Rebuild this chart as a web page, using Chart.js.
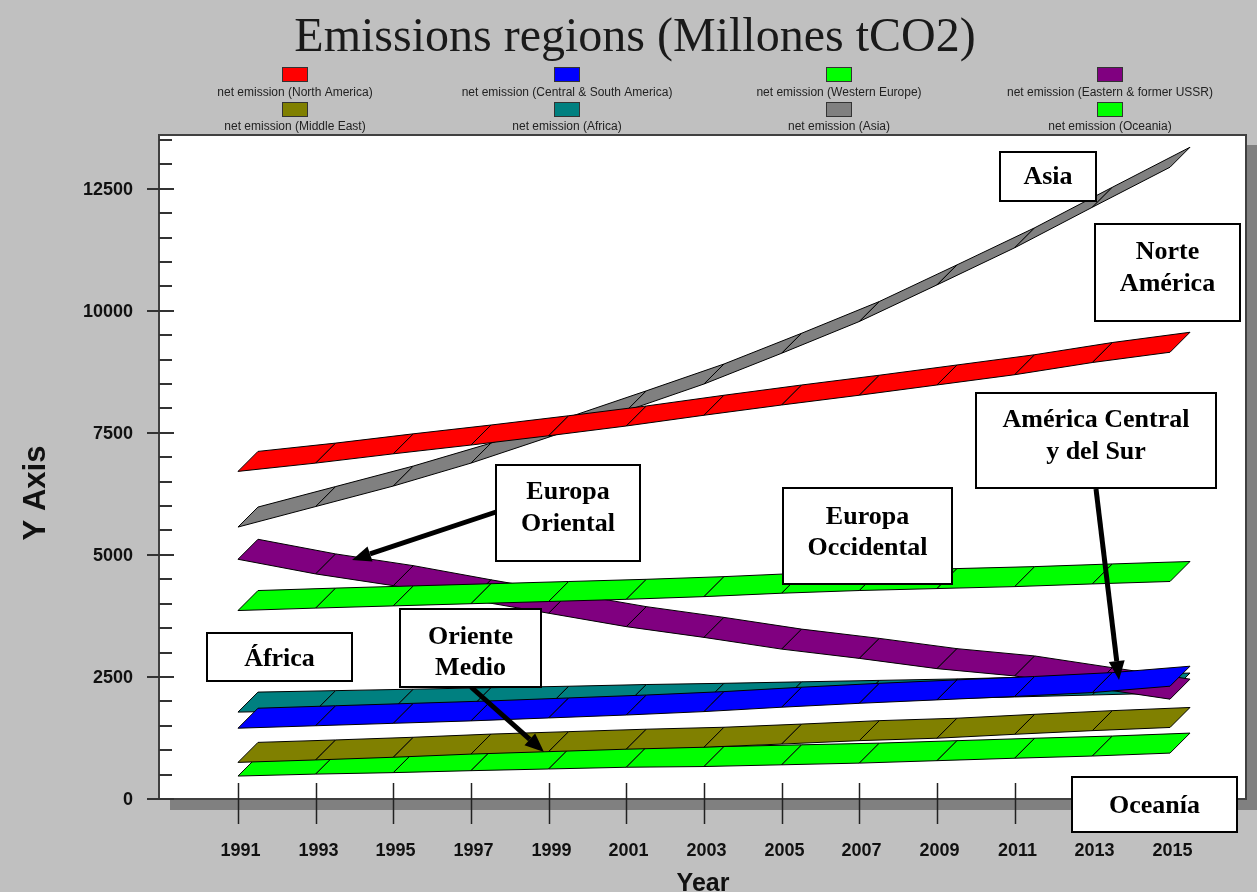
<!DOCTYPE html>
<html>
<head>
<meta charset="utf-8">
<script src="https://cdn.jsdelivr.net/npm/chart.js@4.4.0/dist/chart.umd.min.js"></script>
<style>
  html, body { margin: 0; padding: 0; background: #c0c0c0; }
  #wrap { width: 1257px; height: 892px; }
</style>
</head>
<body>
<div id="wrap"><canvas id="chartEmisiones" width="1257" height="892"></canvas></div>
<script>
// Años (cada dos años) y emisiones netas por región, millones tCO2
const years = [1991, 1993, 1995, 1997, 1999, 2001, 2003, 2005, 2007, 2009, 2011, 2013, 2015];

const northAmerica   = [6710, 6880, 7070, 7250, 7440, 7640, 7860, 8070, 8270, 8480, 8690, 8940, 9150];
const centralSouthAm = [1450, 1500, 1550, 1600, 1660, 1720, 1790, 1880, 1960, 2030, 2100, 2180, 2310];
const westernEurope  = [3860, 3910, 3955, 4000, 4045, 4090, 4145, 4215, 4270, 4310, 4350, 4405, 4455];
const easternUSSR    = [4910, 4610, 4370, 4080, 3805, 3530, 3310, 3070, 2880, 2670, 2520, 2280, 2045];
const middleEast     = [750, 800, 855, 920, 970, 1020, 1060, 1125, 1195, 1245, 1325, 1400, 1465];
const africa         = [1780, 1810, 1840, 1870, 1900, 1935, 1960, 1990, 2020, 2050, 2090, 2130, 2170];
const asia           = [5570, 5990, 6410, 6880, 7410, 7950, 8500, 9130, 9780, 10530, 11290, 12120, 12940];
const oceania        = [470, 510, 540, 580, 615, 650, 665, 700, 735, 785, 835, 880, 940];

const seriesLabels = [
  'net emission (North America)', 'net emission (Central & South America)',
  'net emission (Western Europe)', 'net emission (Eastern & former USSR)',
  'net emission (Middle East)', 'net emission (Africa)',
  'net emission (Asia)', 'net emission (Oceania)'
];
const seriesValues = [northAmerica, centralSouthAm, westernEurope, easternUSSR, middleEast, africa, asia, oceania];
const seriesColors = ['#ff0000', '#0000ff', '#00ff00', '#800080', '#808000', '#008080', '#808080', '#00ff00'];

const yMajorTicks = [0, 2500, 5000, 7500, 10000, 12500];
const yMinorStep = 500;
const xTickYears = years;

// Cuadros de texto con flecha (en píxeles)
const notas = [
  { box: [1000, 152, 1096, 201], lines: ['Asia'], ys: [177] },
  { box: [1095, 224, 1240, 321], lines: ['Norte', 'América'], ys: [252, 284] },
  { box: [976, 393, 1216, 488], lines: ['América Central', 'y del Sur'], ys: [420, 452], arrow: [1096, 489, 1119, 680] },
  { box: [496, 465, 640, 561], lines: ['Europa', 'Oriental'], ys: [492, 524], arrow: [496, 512, 352, 560] },
  { box: [783, 488, 952, 584], lines: ['Europa', 'Occidental'], ys: [517, 548] },
  { box: [207, 633, 352, 681], lines: ['África'], ys: [659] },
  { box: [400, 609, 541, 687], lines: ['Oriente', 'Medio'], ys: [637, 668], arrow: [471, 687, 544, 752] },
  { box: [1072, 777, 1237, 832], lines: ['Oceanía'], ys: [806] }
];

const DEPTH_X = 20, DEPTH_Y = -20;
const SANS = '"Liberation Sans", Arial, sans-serif';
const SERIF = '"Liberation Serif", "Times New Roman", serif';

// Fondo gris, sombra y área blanca del gráfico
const marcoPlugin = {
  id: 'marco',
  beforeDraw(chart) {
    const { ctx, chartArea: a } = chart;
    ctx.save();
    ctx.fillStyle = '#c0c0c0';
    ctx.fillRect(0, 0, chart.width, chart.height);
    ctx.fillStyle = '#808080';
    ctx.fillRect(a.left + 11, a.bottom, a.right - a.left, 11);
    ctx.fillRect(a.right, a.top + 10, 11, a.bottom - a.top);
    ctx.fillStyle = '#ffffff';
    ctx.fillRect(a.left, a.top, a.right - a.left, a.bottom - a.top);
    ctx.strokeStyle = '#404040';
    ctx.lineWidth = 2;
    ctx.strokeRect(a.left, a.top, a.right - a.left, a.bottom - a.top);

    // marcas del eje Y
    const y = chart.scales.y;
    ctx.strokeStyle = '#333';
    ctx.lineWidth = 2;
    for (let v = yMinorStep; v <= y.max; v += yMinorStep) {
      if (yMajorTicks.includes(v)) continue;
      const py = Math.round(y.getPixelForValue(v));
      ctx.beginPath();
      ctx.moveTo(a.left, py);
      ctx.lineTo(a.left + 13, py);
      ctx.stroke();
    }
    yMajorTicks.forEach(v => {
      const py = Math.round(y.getPixelForValue(v));
      ctx.beginPath();
      ctx.moveTo(a.left - 12, py);
      ctx.lineTo(a.left + 15, py);
      ctx.stroke();
    });
    ctx.fillStyle = '#111';
    ctx.font = 'bold 18px ' + SANS;
    ctx.textAlign = 'right';
    ctx.textBaseline = 'middle';
    yMajorTicks.forEach(v => {
      ctx.fillText(String(v), a.left - 26, y.getPixelForValue(v) + 1);
    });
    ctx.restore();
  },
  // cintas en pseudo 3D, la primera serie queda delante
  afterDatasetsDraw(chart) {
    const { ctx } = chart;
    ctx.save();
    ctx.lineWidth = 1;
    ctx.strokeStyle = '#000';
    ctx.lineJoin = 'miter';
    for (let i = chart.data.datasets.length - 1; i >= 0; i--) {
      const pts = chart.getDatasetMeta(i).data;
      ctx.fillStyle = seriesColors[i];
      for (let j = 0; j < pts.length - 1; j++) {
        const p = pts[j], q = pts[j + 1];
        ctx.beginPath();
        ctx.moveTo(p.x, p.y);
        ctx.lineTo(q.x, q.y);
        ctx.lineTo(q.x + DEPTH_X, q.y + DEPTH_Y);
        ctx.lineTo(p.x + DEPTH_X, p.y + DEPTH_Y);
        ctx.closePath();
        ctx.fill();
        ctx.stroke();
      }
    }
    ctx.restore();
  },
  afterDraw(chart) {
    const { ctx, chartArea: a } = chart;
    const x = chart.scales.x;
    ctx.save();

    // marcas y etiquetas del eje X
    ctx.strokeStyle = '#222';
    ctx.lineWidth = 1.5;
    ctx.fillStyle = '#111';
    ctx.font = 'bold 18px ' + SANS;
    ctx.textAlign = 'center';
    ctx.textBaseline = 'middle';
    xTickYears.forEach(yr => {
      const px = Math.round(x.getPixelForValue(yr)) + 0.5;
      ctx.beginPath();
      ctx.moveTo(px, a.bottom - 16);
      ctx.lineTo(px, a.bottom + 25);
      ctx.stroke();
      ctx.fillText(String(yr), px + 2, a.bottom + 52);
    });

    // títulos de ejes
    ctx.font = 'bold 25px ' + SANS;
    ctx.textBaseline = 'alphabetic';
    ctx.fillText('Year', 703, 891);
    ctx.save();
    ctx.translate(45, 493);
    ctx.rotate(-Math.PI / 2);
    ctx.font = 'bold 31px ' + SANS;
    ctx.fillText('Y Axis', 0, 0);
    ctx.restore();

    // título
    ctx.fillStyle = '#1a1a1a';
    ctx.font = '48px ' + SERIF;
    ctx.textBaseline = 'middle';
    ctx.fillText('Emissions regions (Millones tCO2)', 635, 38);

    // leyenda en dos filas de cuatro
    const colX = [295, 567, 839, 1110];
    const swatchTop = [67, 102];
    const textY = [92.5, 127];
    ctx.font = '12px ' + SANS;
    seriesLabels.forEach((lab, i) => {
      const row = Math.floor(i / 4), col = i % 4;
      ctx.fillStyle = seriesColors[i];
      ctx.fillRect(colX[col] - 13, swatchTop[row], 26, 15);
      ctx.strokeStyle = '#333';
      ctx.lineWidth = 1;
      ctx.strokeRect(colX[col] - 12.5, swatchTop[row] + 0.5, 25, 14);
      ctx.fillStyle = '#222';
      ctx.fillText(lab, colX[col], textY[row]);
    });

    // notas con flechas
    notas.forEach(n => {
      if (n.arrow) {
        const [x1, y1, x2, y2] = n.arrow;
        const ang = Math.atan2(y2 - y1, x2 - x1);
        const hl = 19, hw = 8;
        const bx = x2 - hl * Math.cos(ang), by = y2 - hl * Math.sin(ang);
        ctx.strokeStyle = '#000';
        ctx.lineWidth = 5;
        ctx.beginPath();
        ctx.moveTo(x1, y1);
        ctx.lineTo(bx, by);
        ctx.stroke();
        ctx.fillStyle = '#000';
        ctx.beginPath();
        ctx.moveTo(x2, y2);
        ctx.lineTo(bx + hw * Math.sin(ang), by - hw * Math.cos(ang));
        ctx.lineTo(bx - hw * Math.sin(ang), by + hw * Math.cos(ang));
        ctx.closePath();
        ctx.fill();
      }
      const [l, t, r, b] = n.box;
      ctx.fillStyle = '#fff';
      ctx.fillRect(l, t, r - l, b - t);
      ctx.strokeStyle = '#000';
      ctx.lineWidth = 2;
      ctx.strokeRect(l, t, r - l, b - t);
      ctx.fillStyle = '#000';
      ctx.font = 'bold 26px ' + SERIF;
      ctx.textBaseline = 'middle';
      n.lines.forEach((s, k) => ctx.fillText(s, (l + r) / 2, n.ys[k]));
    });
    ctx.restore();
  }
};

const datasets = seriesLabels.map((label, i) => ({
  label,
  data: years.map((yr, k) => ({ x: yr, y: seriesValues[i][k] })),
  showLine: false,
  pointRadius: 0,
  pointHoverRadius: 0,
  borderColor: seriesColors[i],
  backgroundColor: seriesColors[i]
}));

new Chart(document.getElementById('chartEmisiones'), {
  type: 'line',
  data: { datasets },
  options: {
    responsive: false,
    devicePixelRatio: 1,
    animation: false,
    events: [],
    layout: { padding: { left: 159, top: 135, right: 11, bottom: 93 } },
    plugins: {
      legend: { display: false },
      title: { display: false },
      tooltip: { enabled: false }
    },
    scales: {
      x: { type: 'linear', display: false, min: 1988.966, max: 2016.957 },
      y: { type: 'linear', display: false, min: 0, max: 13600 }
    }
  },
  plugins: [marcoPlugin]
});
</script>
</body>
</html>
